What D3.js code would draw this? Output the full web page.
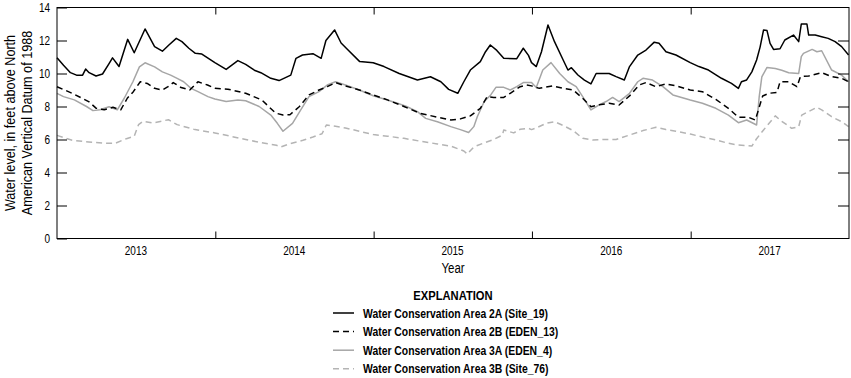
<!DOCTYPE html>
<html>
<head>
<meta charset="utf-8">
<script src="https://cdn.jsdelivr.net/npm/d3@7"></script>
<style>
  body { margin: 0; background: #fff; }
  text { font-family: "Liberation Sans", Arial, sans-serif; fill: #000; }
</style>
</head>
<body>
<svg id="chart" width="851" height="378"></svg>
<script>
const MARGIN = {top: 7.5, right: 2, bottom: 139.5, left: 57}
const W = 851, H = 378

// years shown on the x axis
const years = [2013, 2014, 2015, 2016, 2017]
const yTicks = [0, 2, 4, 6, 8, 10, 12, 14]

// Water Conservation Area 2A (Site_19)
const site19 = [
  ["2013-01-01",10.95],["2013-01-16",10.5],["2013-02-01",10.05],["2013-02-15",9.9],["2013-03-01",9.9],
  ["2013-03-08",10.27],["2013-03-16",10.05],["2013-04-01",9.85],["2013-04-16",9.97],["2013-05-01",10.6],
  ["2013-05-09",10.95],["2013-05-24",10.42],["2013-06-13",12.07],["2013-06-28",11.26],["2013-07-23",12.7],
  ["2013-08-14",11.63],["2013-09-01",11.35],["2013-09-16",11.73],["2013-10-03",12.13],["2013-10-16",11.93],
  ["2013-11-01",11.53],["2013-11-16",11.22],["2013-12-01",11.18],["2013-12-16",10.92],["2013-12-31",10.66],
  ["2014-01-26",10.25],["2014-02-22",10.78],["2014-03-12",10.55],["2014-04-01",10.2],["2014-04-16",10.05],
  ["2014-05-09",9.71],["2014-05-28",9.57],["2014-06-24",9.9],["2014-07-06",10.92],["2014-07-21",11.12],
  ["2014-08-14",11.2],["2014-09-02",10.92],["2014-09-13",12.0],["2014-10-03",12.64],["2014-10-18",11.85],
  ["2014-10-30",11.53],["2014-11-30",10.72],["2014-12-31",10.65],
  ["2015-01-25",10.42],["2015-03-01",10.0],["2015-04-12",9.61],["2015-05-12",9.8],["2015-06-05",9.5],
  ["2015-06-23",9.04],["2015-07-14",8.8],["2015-07-28",9.5],["2015-08-12",10.21],["2015-09-04",10.72],
  ["2015-09-16",11.32],["2015-09-27",11.73],["2015-10-12",11.4],["2015-10-28",10.92],["2015-11-27",10.9],
  ["2015-12-12",11.53],["2015-12-24",11.1],["2015-12-31",10.66],
  ["2016-01-11",10.42],["2016-01-23",11.32],["2016-02-07",12.94],["2016-02-22",11.93],["2016-03-13",10.82],
  ["2016-03-24",10.21],["2016-04-01",10.35],["2016-04-16",9.91],["2016-05-01",9.6],["2016-05-16",9.37],
  ["2016-05-28",10.0],["2016-06-09",10.0],["2016-06-27",10.0],["2016-07-13",9.81],["2016-08-01",9.61],
  ["2016-08-13",10.42],["2016-09-01",11.12],["2016-09-20",11.42],["2016-10-09",11.9],["2016-10-20",11.83],
  ["2016-11-05",11.32],["2016-11-28",11.12],["2016-12-31",10.66],
  ["2017-01-20",10.42],["2017-02-11",10.21],["2017-03-13",9.71],["2017-04-05",9.4],["2017-04-21",9.1],
  ["2017-04-28",9.5],["2017-05-10",9.61],["2017-05-22",10.1],["2017-06-02",10.82],["2017-06-10",11.6],
  ["2017-06-18",12.64],["2017-06-26",12.6],["2017-07-03",11.83],["2017-07-11",11.46],["2017-07-26",11.5],
  ["2017-08-06",12.03],["2017-08-26",12.33],["2017-09-07",11.93],["2017-09-13",13.0],["2017-09-26",13.0],
  ["2017-09-30",12.33],["2017-10-15",12.33],["2017-10-30",12.23],["2017-11-14",12.13],["2017-11-30",11.93],
  ["2017-12-15",11.63],["2017-12-31",11.12]
]

// Water Conservation Area 2B (EDEN_13)
const eden13 = [
  ["2013-01-01",9.2],["2013-02-05",8.8],["2013-03-15",8.3],["2013-04-01",7.9],["2013-04-20",7.8],
  ["2013-05-10",7.95],["2013-05-28",7.8],["2013-06-12",8.5],["2013-06-26",8.9],["2013-07-12",9.5],
  ["2013-07-28",9.4],["2013-08-14",9.1],["2013-09-01",9.0],["2013-09-14",9.2],["2013-09-26",9.45],
  ["2013-10-14",9.15],["2013-11-03",9.0],["2013-11-22",9.5],["2013-12-14",9.3],["2013-12-31",9.1],
  ["2014-01-30",9.05],["2014-03-12",8.8],["2014-04-18",8.4],["2014-05-20",7.6],["2014-06-06",7.48],
  ["2014-06-22",7.5],["2014-07-14",8.0],["2014-08-05",8.7],["2014-08-28",9.0],["2014-09-16",9.2],
  ["2014-10-05",9.45],["2014-10-28",9.25],["2014-11-29",9.0],["2014-12-31",8.7],
  ["2015-02-02",8.4],["2015-03-12",8.0],["2015-04-18",7.59],["2015-05-28",7.35],["2015-06-28",7.18],
  ["2015-07-20",7.25],["2015-08-12",7.43],["2015-09-04",7.89],["2015-09-20",8.6],["2015-10-05",8.55],
  ["2015-10-28",8.55],["2015-11-12",8.8],["2015-12-05",9.2],["2015-12-20",9.3],["2015-12-31",9.25],
  ["2016-01-18",9.1],["2016-02-18",9.25],["2016-03-13",9.1],["2016-04-05",9.0],["2016-04-27",8.5],
  ["2016-05-16",7.99],["2016-06-04",8.1],["2016-06-27",8.2],["2016-07-20",8.09],["2016-08-13",8.64],
  ["2016-09-04",9.3],["2016-09-20",9.45],["2016-10-13",9.2],["2016-11-05",9.37],["2016-11-28",9.25],
  ["2016-12-31",9.0],
  ["2017-01-28",8.9],["2017-02-28",8.43],["2017-03-29",7.89],["2017-04-21",7.35],["2017-05-14",7.35],
  ["2017-05-30",7.18],["2017-06-16",8.64],["2017-06-30",8.8],["2017-07-19",8.85],["2017-07-26",9.5],
  ["2017-08-15",9.5],["2017-09-03",9.2],["2017-09-11",9.81],["2017-09-30",9.85],["2017-10-30",10.05],
  ["2017-11-22",9.81],["2017-12-15",9.71],["2017-12-31",9.5]
]

// Water Conservation Area 3A (EDEN_4)
const eden4 = [
  ["2013-01-01",8.8],["2013-01-16",8.6],["2013-02-10",8.4],["2013-03-10",8.0],["2013-03-25",7.75],
  ["2013-04-10",7.8],["2013-05-01",7.98],["2013-05-20",7.8],["2013-06-05",8.5],["2013-06-25",9.5],
  ["2013-07-10",10.4],["2013-07-23",10.65],["2013-08-14",10.4],["2013-09-01",10.1],["2013-09-20",9.9],
  ["2013-10-05",9.7],["2013-10-20",9.5],["2013-11-06",9.1],["2013-11-22",8.9],["2013-12-15",8.6],
  ["2013-12-31",8.45],
  ["2014-01-26",8.3],["2014-02-22",8.4],["2014-03-12",8.35],["2014-04-12",8.0],["2014-05-09",7.48],
  ["2014-05-24",6.98],["2014-06-06",6.5],["2014-06-28",6.98],["2014-07-17",7.79],["2014-08-05",8.6],
  ["2014-08-28",8.9],["2014-09-16",9.3],["2014-10-05",9.5],["2014-10-28",9.3],["2014-11-29",9.0],
  ["2014-12-31",8.65],
  ["2015-01-25",8.45],["2015-02-25",8.2],["2015-03-18",8.0],["2015-04-12",7.69],["2015-05-01",7.28],
  ["2015-05-28",7.08],["2015-06-28",6.78],["2015-07-20",6.6],["2015-08-08",6.42],["2015-08-20",6.78],
  ["2015-08-28",7.38],["2015-09-13",8.3],["2015-09-28",8.7],["2015-10-10",9.16],["2015-10-28",9.16],
  ["2015-11-12",9.0],["2015-11-27",9.2],["2015-12-12",9.45],["2015-12-31",9.45],
  ["2016-01-11",9.15],["2016-01-26",10.21],["2016-02-14",10.66],["2016-03-05",10.0],["2016-03-24",9.5],
  ["2016-04-12",9.2],["2016-04-27",8.6],["2016-05-16",7.79],["2016-06-04",8.1],["2016-06-20",8.3],
  ["2016-07-05",8.55],["2016-07-20",8.3],["2016-08-13",8.8],["2016-09-01",9.5],["2016-09-13",9.71],
  ["2016-10-05",9.6],["2016-10-29",9.2],["2016-11-21",8.7],["2016-12-31",8.39],
  ["2017-01-28",8.2],["2017-02-28",7.89],["2017-03-29",7.48],["2017-04-21",7.02],["2017-05-10",7.18],
  ["2017-06-02",6.88],["2017-06-08",8.6],["2017-06-14",9.8],["2017-06-26",10.37],["2017-07-15",10.3],
  ["2017-07-30",10.2],["2017-08-15",10.05],["2017-09-07",10.0],["2017-09-13",11.02],["2017-09-18",11.22],
  ["2017-10-08",11.46],["2017-10-19",11.32],["2017-10-30",11.38],["2017-11-22",10.21],["2017-12-15",9.9],
  ["2017-12-31",9.5]
]

// Water Conservation Area 3B (Site_76)
const site76 = [
  ["2013-01-01",6.25],["2013-02-05",5.95],["2013-03-15",5.85],["2013-04-20",5.77],["2013-05-15",5.77],
  ["2013-06-10",6.05],["2013-06-28",6.2],["2013-07-08",6.9],["2013-07-18",7.1],["2013-08-10",7.0],
  ["2013-09-15",7.2],["2013-10-05",6.9],["2013-11-15",6.6],["2013-12-31",6.4],
  ["2014-02-05",6.2],["2014-03-12",6.0],["2014-04-18",5.8],["2014-05-22",5.65],["2014-06-01",5.55],
  ["2014-06-22",5.75],["2014-07-22",5.95],["2014-08-14",6.15],["2014-09-04",6.35],["2014-09-14",6.88],
  ["2014-10-05",6.8],["2014-10-28",6.7],["2014-11-29",6.5],["2014-12-31",6.3],
  ["2015-02-02",6.2],["2015-03-12",6.07],["2015-04-18",5.9],["2015-05-28",5.73],["2015-06-28",5.6],
  ["2015-07-28",5.3],["2015-08-05",5.12],["2015-08-20",5.55],["2015-09-13",5.8],["2015-10-05",6.0],
  ["2015-10-25",6.27],["2015-10-28",6.58],["2015-11-20",6.4],["2015-12-05",6.62],["2015-12-24",6.68],
  ["2015-12-31",6.6],
  ["2016-01-11",6.7],["2016-02-03",6.98],["2016-02-22",7.08],["2016-03-13",6.85],["2016-04-05",6.54],
  ["2016-04-27",6.07],["2016-05-20",5.97],["2016-06-12",6.0],["2016-07-13",6.0],["2016-08-13",6.27],
  ["2016-09-13",6.54],["2016-10-13",6.74],["2016-11-05",6.6],["2016-11-28",6.5],["2016-12-31",6.33],
  ["2017-01-28",6.15],["2017-02-28",5.97],["2017-03-29",5.77],["2017-04-21",5.66],["2017-05-22",5.6],
  ["2017-06-02",6.05],["2017-06-18",6.58],["2017-07-15",7.43],["2017-07-30",7.1],["2017-08-22",6.68],
  ["2017-09-07",6.78],["2017-09-14",7.48],["2017-09-30",7.7],["2017-10-19",7.95],["2017-10-30",7.8],
  ["2017-11-22",7.38],["2017-12-15",7.08],["2017-12-31",6.78]
]

const seriesNames = [
  "Water Conservation Area 2A (Site_19)",
  "Water Conservation Area 2B (EDEN_13)",
  "Water Conservation Area 3A (EDEN_4)",
  "Water Conservation Area 3B (Site_76)"
]

const series = [
  {name: seriesNames[0], data: site19, color: "#000", dash: null},
  {name: seriesNames[1], data: eden13, color: "#000", dash: "6,4"},
  {name: seriesNames[2], data: eden4, color: "#a6a6a6", dash: null},
  {name: seriesNames[3], data: site76, color: "#b4b4b4", dash: "6,4"}
]

const parse = d3.timeParse("%Y-%m-%d")
const svg = d3.select("#chart")

// squeeze text so the regular font looks like the condensed one in the original
function condense(sel, k) {
  sel.each(function() {
    let w = this.getComputedTextLength()
    d3.select(this)
      .attr("textLength", w * (k || 0.8))
      .attr("lengthAdjust", "spacingAndGlyphs")
  })
}

const x = d3.scaleTime()
  .domain([new Date(2013, 0, 1), new Date(2018, 0, 1)])
  .range([MARGIN.left, W - MARGIN.right])

const y = d3.scaleLinear()
  .domain([0, 14])
  .range([H - MARGIN.bottom, MARGIN.top])

const x0 = MARGIN.left, x1 = W - MARGIN.right
const y0 = H - MARGIN.bottom, y1 = MARGIN.top

// lines (draw light ones first so the black sits on top)
let line = d3.line()
  .x(d => x(parse(d[0])))
  .y(d => y(d[1]))

let order = [3, 2, 1, 0]
order.forEach(i => {
  let s = series[i]
  svg.append("path")
    .datum(s.data)
    .attr("fill", "none")
    .attr("stroke", s.color)
    .attr("stroke-width", 1.5)
    .attr("stroke-dasharray", s.dash)
    .attr("stroke-linejoin", "round")
    .attr("d", line)
})

// frame
svg.append("rect")
  .attr("x", x0).attr("y", y1)
  .attr("width", x1 - x0).attr("height", y0 - y1)
  .attr("fill", "none")
  .attr("stroke", "#000")
  .attr("stroke-width", 1)

// y axis, ticks pointing in on both sides
let yAxisL = svg.append("g")
  .attr("transform", "translate(" + x0 + ",0)")
  .call(d3.axisRight(y).tickValues(yTicks).tickSize(10).tickFormat(""))
yAxisL.select(".domain").remove()

let yAxisR = svg.append("g")
  .attr("transform", "translate(" + x1 + ",0)")
  .call(d3.axisLeft(y).tickValues(yTicks.slice(1, -1)).tickSize(11).tickFormat(""))
yAxisR.select(".domain").remove()

svg.selectAll(".ylab")
  .data(yTicks)
  .enter().append("text")
  .attr("class", "ylab")
  .attr("x", x0 - 7)
  .attr("y", d => y(d) + 4.5)
  .attr("text-anchor", "end")
  .style("font-size", "12.5px")
  .text(d => d)
  .call(condense, 0.8)

// x axis, year boundaries as ticks from top and bottom
let yearBounds = years.slice(1).map(yr => new Date(yr, 0, 1))
let xAxisB = svg.append("g")
  .attr("transform", "translate(0," + y0 + ")")
  .call(d3.axisTop(x).tickValues(yearBounds).tickSize(7).tickFormat(""))
xAxisB.select(".domain").remove()

let xAxisT = svg.append("g")
  .attr("transform", "translate(0," + y1 + ")")
  .call(d3.axisBottom(x).tickValues(yearBounds).tickSize(7).tickFormat(""))
xAxisT.select(".domain").remove()

svg.selectAll(".xlab")
  .data(years)
  .enter().append("text")
  .attr("class", "xlab")
  .attr("x", yr => x(new Date(yr, 6, 2)))
  .attr("y", y0 + 16)
  .attr("text-anchor", "middle")
  .style("font-size", "12.5px")
  .text(d => d)
  .call(condense, 0.8)

svg.append("text")
  .attr("x", (x0 + x1) / 2)
  .attr("y", 273)
  .attr("text-anchor", "middle")
  .style("font-size", "14px")
  .text("Year")
  .call(condense, 0.82)

// y title, two lines
let yTitle = svg.append("g")
  .attr("transform", "translate(0," + ((y0 + y1) / 2) + ") rotate(-90)")
yTitle.append("text").attr("x", 0).attr("y", 15)
  .attr("text-anchor", "middle")
  .style("font-size", "14.5px")
  .text("Water level, in feet above North")
  .call(condense, 0.87)
yTitle.append("text").attr("x", 0).attr("y", 32)
  .attr("text-anchor", "middle")
  .style("font-size", "14.5px")
  .text("American Vertical Datum of 1988")
  .call(condense, 0.87)

// legend
svg.append("text")
  .attr("x", 453)
  .attr("y", 300)
  .attr("text-anchor", "middle")
  .style("font-size", "13px")
  .style("font-weight", "bold")
  .text("EXPLANATION")
  .call(condense, 0.86)

let legend = svg.selectAll(".leg")
  .data(series)
  .enter().append("g")
  .attr("class", "leg")
  .attr("transform", (d, i) => "translate(333," + (313 + i * 18.6) + ")")

legend.append("line")
  .attr("x1", 0).attr("x2", 21)
  .attr("stroke", d => d.color)
  .attr("stroke-width", 1.5)
  .attr("stroke-dasharray", d => d.dash)

legend.append("text")
  .attr("x", 30)
  .attr("y", 4.5)
  .style("font-size", "12.5px")
  .style("font-weight", "bold")
  .text(d => d.name)
  .call(condense, 0.83)
</script>
</body>
</html>
